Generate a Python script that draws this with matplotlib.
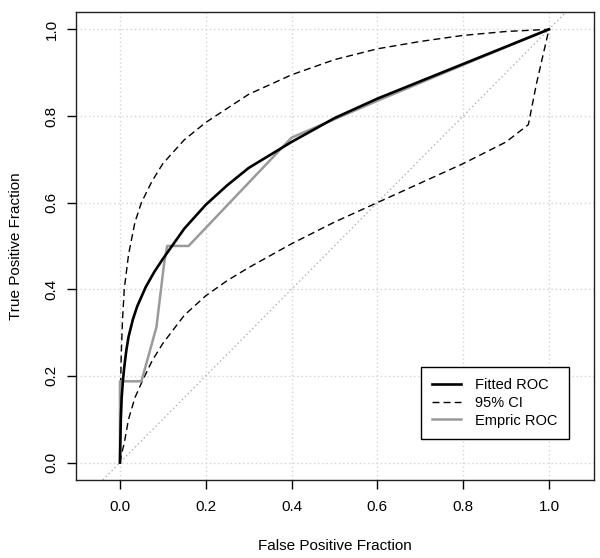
import numpy as np
import matplotlib.pyplot as plt

plt.rcParams['font.family'] = ['Liberation Sans', 'DejaVu Sans']

# fitted (binormal) ROC curve
fit_fpf = [0.0, 0.002, 0.004, 0.007, 0.01, 0.015, 0.02, 0.03, 0.04, 0.06, 0.08,
           0.1, 0.15, 0.2, 0.25, 0.3, 0.4, 0.5, 0.6, 0.7, 0.8, 0.9, 0.95, 1.0]
fit_tpf = [0.0, 0.1, 0.15, 0.19, 0.22, 0.26, 0.29, 0.33, 0.36, 0.405, 0.44,
           0.47, 0.54, 0.595, 0.64, 0.68, 0.74, 0.795, 0.84, 0.88, 0.92, 0.96, 0.98, 1.0]

# 95% confidence band
ci_up_fpf = [0.0, 0.001, 0.003, 0.006, 0.01, 0.02, 0.035, 0.05, 0.075, 0.1,
             0.15, 0.2, 0.3, 0.4, 0.5, 0.6, 0.7, 0.8, 0.9, 1.0]
ci_up_tpf = [0.0, 0.15, 0.25, 0.33, 0.4, 0.48, 0.555, 0.6, 0.65, 0.69,
             0.745, 0.785, 0.85, 0.895, 0.93, 0.955, 0.972, 0.986, 0.995, 1.0]
ci_lo_fpf = [0.0, 0.005, 0.01, 0.02, 0.035, 0.053, 0.075, 0.1, 0.15, 0.2,
             0.25, 0.3, 0.4, 0.5, 0.6, 0.7, 0.8, 0.9, 0.952, 0.971, 1.0]
ci_lo_tpf = [0.0, 0.025, 0.045, 0.1, 0.15, 0.19, 0.235, 0.275, 0.34, 0.385,
             0.42, 0.45, 0.505, 0.555, 0.6, 0.645, 0.69, 0.74, 0.78, 0.875, 1.0]

# empirical ROC
emp_fpf = [0.0, 0.0, 0.05, 0.085, 0.103, 0.11, 0.16, 0.28, 0.4, 0.6, 0.8, 1.0]
emp_tpf = [0.0, 0.1875, 0.1875, 0.3125, 0.46, 0.5, 0.5, 0.625, 0.75, 0.835, 0.918, 1.0]

ticks = [0.0, 0.2, 0.4, 0.6, 0.8, 1.0]
tick_labels = ['0.0', '0.2', '0.4', '0.6', '0.8', '1.0']

fig = plt.figure(figsize=(6, 5.58), dpi=100)
ax = fig.add_axes([0.127, 0.14, 0.863, 0.8385])

ax.set_xlim(-0.102, 1.105)
ax.set_ylim(-0.04, 1.04)

for t in ticks:
    ax.axvline(t, color='#d3d3d3', lw=1, ls=(0, (1, 2)), zorder=0)
    ax.axhline(t, color='#d3d3d3', lw=1, ls=(0, (1, 2)), zorder=0)
ax.axline((0, 0), (1, 1), color='#b0b0b0', lw=1, ls=(0, (1, 2)), zorder=1)

dash = (0, (5, 3))
ax.plot(fit_fpf, fit_tpf, color='black', lw=1.9, label='Fitted ROC', zorder=4)
ax.plot(ci_up_fpf, ci_up_tpf, color='black', lw=1.0, ls=dash, label='95% CI', zorder=3)
ax.plot(ci_lo_fpf, ci_lo_tpf, color='black', lw=1.0, ls=dash, zorder=3)
ax.plot(emp_fpf, emp_tpf, color='#9a9a9a', lw=1.8, label='Empric ROC', zorder=3)

ax.set_xticks(ticks)
ax.set_xticklabels(tick_labels)
ax.set_yticks(ticks)
ax.set_yticklabels(tick_labels, rotation=90, va='center')
ax.tick_params(direction='out', length=6.5, width=1, labelsize=11)
ax.tick_params(axis='x', pad=8)
ax.tick_params(axis='y', pad=6)

for s in ax.spines.values():
    s.set_linewidth(1.0)
    s.set_color('#222222')

ax.set_xlabel('False Positive Fraction', fontsize=11, labelpad=18)
ax.set_ylabel('True Positive Fraction', fontsize=11, labelpad=16)

leg = ax.legend(loc='upper left', bbox_to_anchor=(0.701, 0.343),
                bbox_transform=fig.transFigure, fontsize=10.5, frameon=True,
                fancybox=False, framealpha=1, edgecolor='black',
                handlelength=2.0, handletextpad=0.95, labelspacing=0.25,
                borderpad=0.8, borderaxespad=0)
leg.get_frame().set_linewidth(1.0)

fig.savefig('out.png', dpi=100)
